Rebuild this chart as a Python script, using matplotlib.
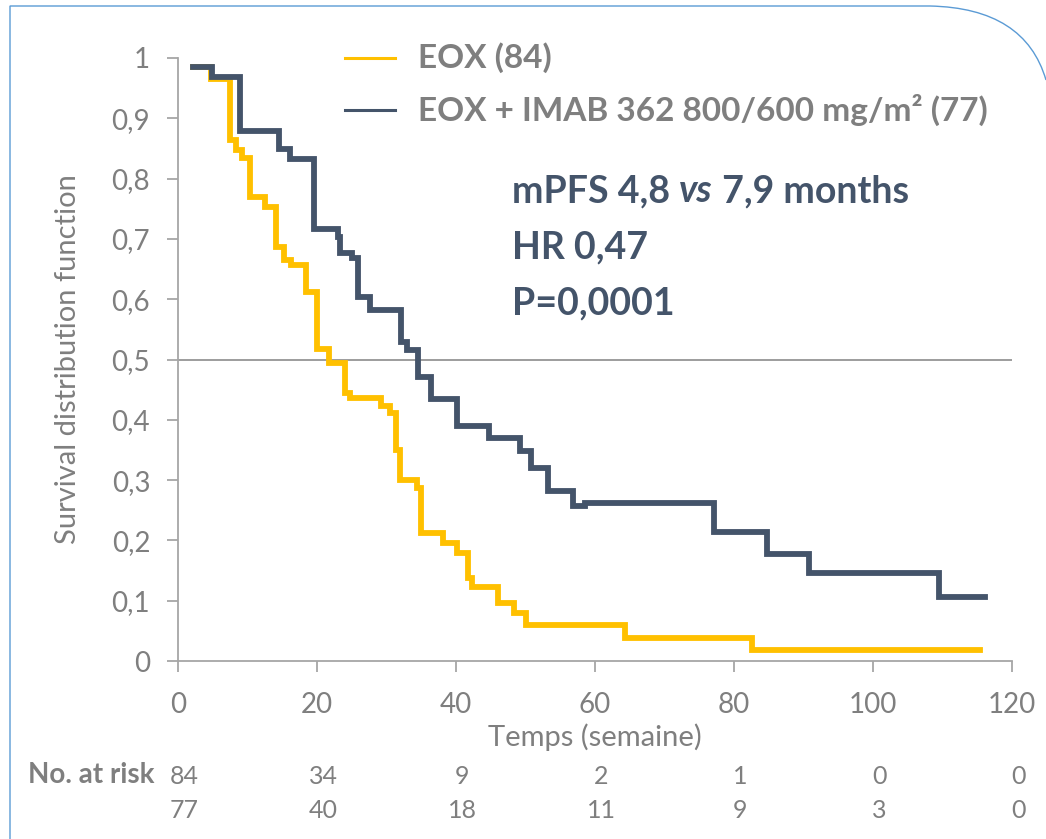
import numpy as np
import matplotlib
matplotlib.use("Agg")
import matplotlib.pyplot as plt
from matplotlib.path import Path
from matplotlib.patches import PathPatch

# survival curves (weeks, survival)
eox_t = [2.2, 4.8, 7.5, 8.3, 9.2, 10.4, 12.5, 14.1, 15.3, 16.2, 18.4, 20.0, 21.7,
         24.0, 24.8, 29.2, 30.5, 31.4, 32.0, 34.4, 35.0, 38.1, 40.2, 41.7, 42.3,
         46.0, 48.3, 50.1, 64.3, 82.6, 115.4]
eox_s = [0.985, 0.965, 0.864, 0.847, 0.834, 0.770, 0.753, 0.687, 0.665, 0.657, 0.612,
         0.517, 0.494, 0.444, 0.436, 0.423, 0.411, 0.350, 0.300, 0.287, 0.212, 0.196,
         0.179, 0.137, 0.123, 0.097, 0.080, 0.060, 0.038, 0.018, 0.018]

imab_t = [2.2, 4.9, 8.9, 14.5, 16.1, 19.6, 23.0, 23.3, 25.0, 25.9, 27.6, 32.1, 33.0,
          34.5, 36.4, 40.1, 44.8, 49.2, 50.8, 53.2, 56.8, 58.5, 77.1, 84.7, 90.8,
          109.5, 116.1]
imab_s = [0.985, 0.968, 0.879, 0.849, 0.833, 0.716, 0.703, 0.677, 0.668, 0.604, 0.582,
          0.529, 0.516, 0.471, 0.434, 0.390, 0.370, 0.348, 0.320, 0.282, 0.257, 0.262,
          0.214, 0.177, 0.146, 0.106, 0.106]

risk_times = [0, 20, 40, 60, 80, 100, 120]
risk_eox = [84, 34, 9, 2, 1, 0, 0]
risk_imab = [77, 40, 18, 11, 9, 3, 0]

labels = ["EOX (84)", "EOX + IMAB 362 800/600 mg/m² (77)"]
notes = ["HR 0,47", "P=0,0001"]
yticks = [0, 0.1, 0.2, 0.3, 0.4, 0.5, 0.6, 0.7, 0.8, 0.9, 1]

YELLOW = "#FFC000"
NAVY = "#44546A"
GREY = "#7F7F7F"

plt.rcParams["font.family"] = ["Lato", "DejaVu Sans"]

W, H = 1046, 839
fig = plt.figure(figsize=(W / 100, H / 100), dpi=100)
ax = fig.add_axes([178 / W, 1 - 661 / H, (1012 - 178) / W, (661 - 58) / H])

ax.step(eox_t, eox_s, where="post", color=YELLOW, lw=4.2, solid_joinstyle="miter")
ax.step(imab_t, imab_s, where="post", color=NAVY, lw=4.2, solid_joinstyle="miter")
ax.axhline(0.5, color="#8c8c8c", lw=1.2, zorder=0)

ax.set_xlim(0, 120)
ax.set_ylim(0, 1)
ax.set_xticks(risk_times)
ax.set_yticks(yticks)
ax.set_yticklabels([("%g" % v).replace(".", ",") for v in yticks])
for s in ["top", "right"]:
    ax.spines[s].set_visible(False)
for s in ["left", "bottom"]:
    ax.spines[s].set_color("#A6A6A6")
    ax.spines[s].set_linewidth(1.3)
ax.tick_params(colors="#A6A6A6", labelcolor=GREY, labelsize=20, length=8, width=1.3)
ax.tick_params(axis="x", pad=14)
ax.tick_params(axis="y", pad=12)

ax.set_xlabel("Temps (semaine)", fontsize=21, color=GREY, labelpad=4)
ax.set_ylabel("Survival distribution function", fontsize=21, color=GREY, labelpad=22)

# legend drawn by hand
for i, (c, lab) in enumerate(zip([YELLOW, NAVY], labels)):
    yy = 1 - (58 + 52 * i) / H
    fig.add_artist(plt.Line2D([345 / W, 395 / W], [yy, yy], color=c, lw=2.2))
    fig.text(418 / W, yy, lab, fontsize=24, fontweight="bold", color=GREY, va="center")

# annotation, first line mixes upright and italic
r = fig.canvas.get_renderer()
x0 = 512
for part, style in [("mPFS 4,8 ", "normal"), ("vs", "italic"), (" 7,9 months", "normal")]:
    t = fig.text(x0 / W, 1 - 191 / H, part, fontsize=27, fontweight="bold",
                 fontstyle=style, color=NAVY, va="center")
    x0 += t.get_window_extent(r).width
for i, n in enumerate(notes):
    fig.text(512 / W, 1 - (247 + 56 * i) / H, n, fontsize=27, fontweight="bold",
             color=NAVY, va="center")

# number at risk
fig.text(155 / W, 1 - 775 / H, "No. at risk", fontsize=20, fontweight="bold",
         color=GREY, ha="right", va="center")
for tt, a, b in zip(risk_times, risk_eox, risk_imab):
    xx = ax.transData.transform((tt, 0))[0] / W + 6 / W
    fig.text(xx, 1 - 777 / H, str(a), fontsize=18, color=GREY, ha="center", va="center")
    fig.text(xx, 1 - 811 / H, str(b), fontsize=18, color=GREY, ha="center", va="center")

# frame with rounded top-right corner
pts = [(10, 839), (10, 6), (930, 6), (1025, 8), (1046, 80)]
codes = [Path.MOVETO, Path.LINETO, Path.LINETO, Path.CURVE3, Path.CURVE3]
verts = [(x / W, 1 - y / H) for x, y in pts]
fig.add_artist(PathPatch(Path(verts, codes), fill=False, edgecolor="#5B9BD5", lw=1.0,
                         transform=fig.transFigure))

fig.savefig("out.png", dpi=100)
